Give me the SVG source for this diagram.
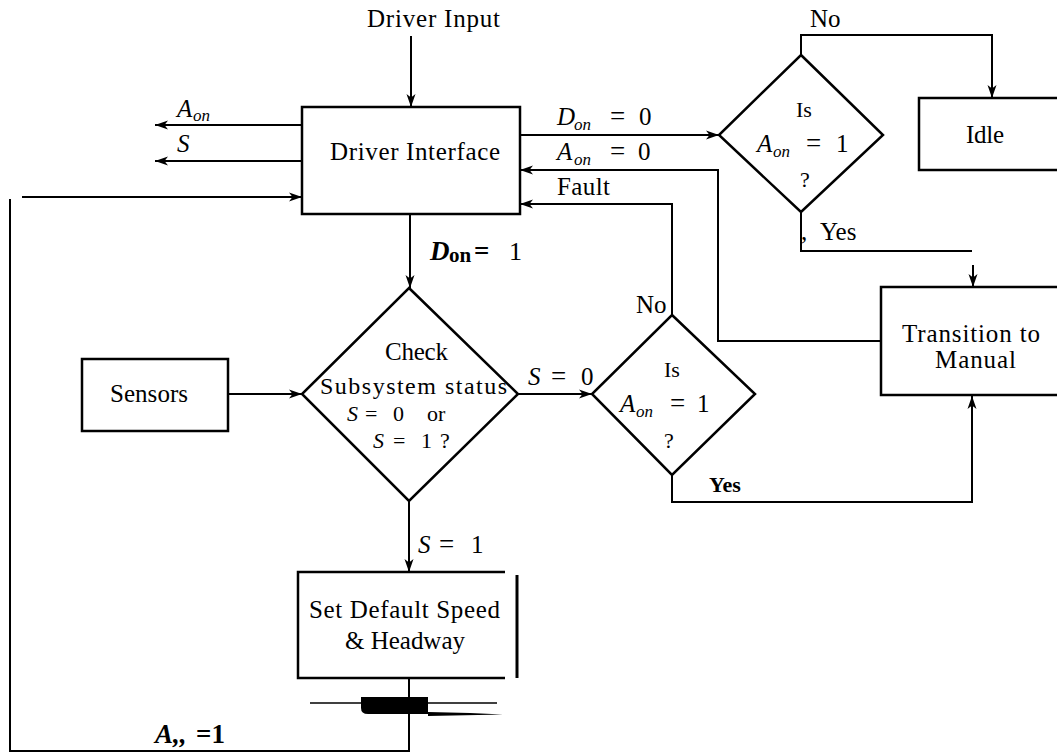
<svg xmlns="http://www.w3.org/2000/svg" width="1057" height="753" viewBox="0 0 1057 753">
<style>
  .t{font-family:"Liberation Serif","Times New Roman",serif;font-size:25px;fill:#000}
  .sm{font-size:22px}
  .it{font-style:italic}
  .sub{font-size:17px;font-style:italic}
  .eq{font-size:27px}
  .m{font-size:22px}
  .b{font-weight:bold}
  .box{fill:none;stroke:#000;stroke-width:2.5}
  .ln{fill:none;stroke:#000;stroke-width:2}
  .ar{fill:none;stroke:#000;stroke-width:2;marker-end:url(#ah)}
</style>
<defs>
  <marker id="ah" markerUnits="userSpaceOnUse" markerWidth="14" markerHeight="10" refX="13" refY="5" orient="auto">
    <path d="M0,0.5 L13,5 L0,9.5 L3.5,5 Z" fill="#000"/>
  </marker>
</defs>
<rect width="1057" height="753" fill="#fff"/>

<g id="connectors">
  <path class="ar" d="M411,36 V107"/>
  <path class="ar" d="M302,125 H155"/>
  <path class="ar" d="M302,161 H155"/>
  <path class="ar" d="M22,197 H302"/>
  <path class="ln" d="M10,199 V751 H409 V678"/>
  <path class="ar" d="M410,214 V288"/>
  <path class="ar" d="M520,135 H719"/>
  <path class="ar" d="M881,341 H718 V170 H520"/>
  <path class="ar" d="M672,315 V204 H520"/>
  <path class="ar" d="M228,394 H302"/>
  <path class="ar" d="M518,394 H592"/>
  <path class="ar" d="M672,475 V502 H972 V396"/>
  <path class="ar" d="M801,55 V35 H992 V98"/>
  <path class="ln" d="M801,212 V251 H972"/>
  <path class="ar" d="M973,265 V287"/>
  <path class="ar" d="M409,501 V572"/>
  <line x1="310" y1="703" x2="497" y2="703" stroke="#000" stroke-width="1.5"/>
  <path d="M361,697 H428 V714 H368 Q361,714 361,708 Z" fill="#000"/>
  <path d="M428,712 L470,713 L503,714.5 L428,716 Z" fill="#000"/>
</g>

<g id="driver-input">
  <text class="t" x="367" y="27" textLength="133" lengthAdjust="spacing">Driver Input</text>
</g>

<g id="driver-interface">
  <rect class="box" x="302" y="107" width="218" height="107"/>
  <text class="t" x="330" y="160" textLength="170" lengthAdjust="spacing">Driver Interface</text>
</g>

<g id="labels">
  <text class="t it" x="177" y="117">A</text><text class="t sub" x="193" y="121">on</text>
  <text class="t it" x="177" y="152">S</text>
  <text class="t b it" x="430" y="260" style="font-size:27px">D</text><text class="t b" x="449" y="262" style="font-size:21px">on</text><text class="t b" x="474" y="260" style="font-size:27px">=</text><text class="t" x="509" y="260" style="font-size:26px">1</text>
  <text class="t it" x="557" y="125">D</text><text class="t sub" x="574" y="130">on</text><text class="t eq" x="610" y="125">=</text><text class="t" x="639" y="125">0</text>
  <text class="t it" x="557" y="160">A</text><text class="t sub" x="574" y="165">on</text><text class="t eq" x="610" y="160">=</text><text class="t" x="638" y="160">0</text>
  <text class="t" x="557" y="195" textLength="53" lengthAdjust="spacing">Fault</text>
  <text class="t" x="810" y="27">No</text>
  <text class="t" x="801" y="240">,</text><text class="t" x="820" y="240">Yes</text>
  <text class="t it" x="528" y="385">S</text><text class="t eq" x="551" y="385">=</text><text class="t" x="581" y="385">0</text>
  <text class="t" x="636" y="313">No</text>
  <text class="t b" x="709" y="492" style="font-size:22px">Yes</text>
  <text class="t it" x="418" y="553">S</text><text class="t eq" x="439" y="553">=</text><text class="t" x="471" y="553">1</text>
  <text class="t b it" x="155" y="743" style="font-size:27px">A,,</text><text class="t b" x="196" y="743" style="font-size:27px">=1</text>
</g>

<g id="decision-aon-top">
  <polygon class="box" points="801,55 883,135 801,212 719,135"/>
  <text class="t sm" x="804" y="117" text-anchor="middle">Is</text>
  <text class="t it" x="757" y="152">A</text><text class="t sub" x="773" y="157">on</text><text class="t eq" x="806" y="152">=</text><text class="t" x="836" y="152">1</text>
  <text class="t sm" x="805" y="187" text-anchor="middle">?</text>
</g>

<g id="idle">
  <rect class="box" x="919" y="98" width="150" height="72"/>
  <text class="t" x="966" y="143" textLength="38" lengthAdjust="spacing">Idle</text>
</g>

<g id="transition-to-manual">
  <rect class="box" x="881" y="287" width="190" height="108"/>
  <text class="t" x="902" y="342" textLength="138" lengthAdjust="spacing">Transition to</text>
  <text class="t" x="935" y="368" textLength="81" lengthAdjust="spacing">Manual</text>
</g>

<g id="sensors">
  <rect class="box" x="82" y="359" width="146" height="72"/>
  <text class="t" x="110" y="402" textLength="78" lengthAdjust="spacing">Sensors</text>
</g>

<g id="check-subsystem">
  <polygon class="box" points="409,288 518,394 409,501 302,394"/>
  <text class="t" x="385" y="360" textLength="63" lengthAdjust="spacing">Check</text>
  <text class="t" x="320" y="394" style="font-size:24px" textLength="187" lengthAdjust="spacing">Subsystem status</text>
  <text class="t m it" x="347" y="421">S</text><text class="t m" x="365" y="421">=</text><text class="t m" x="393" y="421">0</text><text class="t m" x="427" y="421">or</text>
  <text class="t m it" x="373" y="448">S</text><text class="t m" x="393" y="448">=</text><text class="t m" x="421" y="448">1</text><text class="t m" x="440" y="448">?</text>
</g>

<g id="decision-aon-fault">
  <polygon class="box" points="672,315 755,394 672,475 592,394"/>
  <text class="t sm" x="672" y="377" text-anchor="middle">Is</text>
  <text class="t it" x="620" y="412">A</text><text class="t sub" x="636" y="417">on</text><text class="t eq" x="670" y="412">=</text><text class="t" x="697" y="412">1</text>
  <text class="t sm" x="669" y="448" text-anchor="middle">?</text>
</g>

<g id="set-default-speed">
  <path class="box" d="M505,572 H298 V678 H505"/>
  <line x1="517" y1="575" x2="517" y2="678" stroke="#000" stroke-width="3"/>
  <text class="t" x="309" y="618" textLength="191" lengthAdjust="spacing">Set Default Speed</text>
  <text class="t" x="345" y="649" textLength="120" lengthAdjust="spacing">&amp; Headway</text>
</g>
</svg>
